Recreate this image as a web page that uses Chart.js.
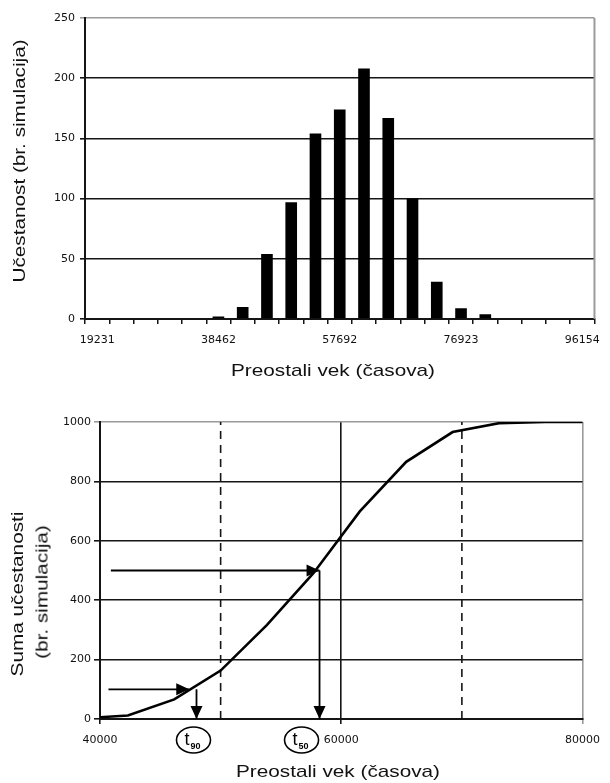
<!DOCTYPE html>
<html>
<head>
<meta charset="UTF-8"/>
<script src="https://cdn.jsdelivr.net/npm/chart.js@4.4.3/dist/chart.umd.min.js"></script>
<style>
  *{box-sizing:border-box;margin:0;padding:0}
  body{width:610px;height:783px;background:#fff;position:relative;overflow:hidden;font-family:'Liberation Sans',Arial,sans-serif;color:#111}
  canvas{position:absolute;left:0}
  .ttl{position:absolute;font-size:17px;line-height:1;white-space:nowrap}
</style>
</head>
<body>
<canvas id="hist" width="610" height="390" style="top:0"></canvas>
<canvas id="cum" width="610" height="391" style="top:392px"></canvas>

<div class="ttl" style="left:333px;top:370px;transform:translate(-50%,-50%) scaleX(1.22)">Preostali vek (časova)</div>
<div class="ttl" style="left:19px;top:161px;transform:translate(-50%,-50%) rotate(-90deg) scaleX(1.22)">Učestanost (br. simulacija)</div>
<div class="ttl" style="left:17px;top:594px;transform:translate(-50%,-50%) rotate(-90deg) scaleX(1.22)">Suma učestanosti</div>
<div class="ttl" style="left:42px;top:592px;transform:translate(-50%,-50%) rotate(-90deg) scaleX(1.22)">(br. simulacija)</div>
<div class="ttl" style="left:338px;top:771px;transform:translate(-50%,-50%) scaleX(1.22)">Preostali vek (časova)</div>

<script>
// ─── Histogram data ───────────────────────────────────────────────────────────
const binLabels = ['19231','23077','26923','30769','34615','38462','42308','46154','50000','53846',
                   '57692','61538','65385','69231','73077','76923','80769','84615','88462','92308','96154'];
const binCounts = [0,0,0,0,0,2,10,54,97,154,174,208,167,100,31,9,4,0,0,0,0];

// ─── Cumulative curve data ────────────────────────────────────────────────────
const lifeHours = [38462,42308,46154,50000,53846,57692,61538,65385,69231,73077,76923,80769];
const cumCounts = [2,12,66,163,317,491,699,866,966,996,1000,1000];
const dashedX   = [50000,70000];

// ─── t90 / t50 read-off arrows ────────────────────────────────────────────────
const arrowLevels = [100,500];
const arrowStartX = [40700,40900];
const arrowEndX   = [47400,58200];
const tValues     = [48000,58200];
const tNames      = ['90','50'];

const TICK_FONT = {family:'DejaVu Sans', size:11};
const DARK = '#151515', GREY = '#9a9a9a';

// right-hand frame line (Excel plot area border)
const frame = {
  id:'frame',
  afterDraw(chart) {
    const {ctx, chartArea:a} = chart;
    ctx.save();
    ctx.strokeStyle = GREY; ctx.lineWidth = 2;
    ctx.beginPath(); ctx.moveTo(a.right, a.top); ctx.lineTo(a.right, a.bottom); ctx.stroke();
    ctx.restore();
  }
};

new Chart(document.getElementById('hist'), {
  type:'bar',
  data:{labels:binLabels, datasets:[{data:binCounts, backgroundColor:'#000', barPercentage:0.48, categoryPercentage:1}]},
  options:{
    responsive:false, animation:false, devicePixelRatio:1,
    layout:{padding:{top:18, right:7, left:0, bottom:0}},
    plugins:{legend:{display:false}, tooltip:{enabled:false}},
    scales:{
      x:{
        grid:{offset:true, drawOnChartArea:false, tickLength:5, color:DARK, lineWidth:1.5},
        border:{color:DARK, width:2},
        ticks:{autoSkip:false, maxRotation:0, padding:10, font:TICK_FONT, color:'#111',
               callback:(v,i) => i % 5 === 0 ? binLabels[i] : ''},
        afterFit:s => { s.height = 390 - 319; }
      },
      y:{
        min:0, max:250,
        grid:{color:c => c.tick.value === 250 ? GREY : DARK, lineWidth:1.6, tickLength:5},
        border:{color:DARK, width:2},
        ticks:{stepSize:50, padding:5, font:TICK_FONT, color:'#111'},
        afterFit:s => { s.width = 85; }
      }
    }
  },
  plugins:[frame]
});

// arrowheads at the last point of flagged datasets + circled t labels
const arrows = {
  id:'arrows',
  afterDatasetsDraw(chart) {
    const {ctx, chartArea:a, scales} = chart;
    ctx.save();
    ctx.fillStyle = '#000';
    chart.data.datasets.forEach((ds, di) => {
      if (!ds.arrow) return;
      const pts = chart.getDatasetMeta(di).data;
      const p0 = pts[pts.length-2], p1 = pts[pts.length-1];
      const ang = Math.atan2(p1.y - p0.y, p1.x - p0.x);
      const L = 13, W = 6;
      ctx.beginPath();
      ctx.moveTo(p1.x, p1.y);
      ctx.lineTo(p1.x - L*Math.cos(ang) + W*Math.sin(ang), p1.y - L*Math.sin(ang) - W*Math.cos(ang));
      ctx.lineTo(p1.x - L*Math.cos(ang) - W*Math.sin(ang), p1.y - L*Math.sin(ang) + W*Math.cos(ang));
      ctx.closePath(); ctx.fill();
    });
    const dx = [-3, -18];
    tValues.forEach((t, i) => {
      const x = scales.x.getPixelForValue(t) + dx[i], y = a.bottom + 21;
      ctx.strokeStyle = '#000'; ctx.lineWidth = 1.6;
      ctx.beginPath(); ctx.ellipse(x, y, 17, 13, 0, 0, Math.PI*2); ctx.stroke();
      ctx.fillStyle = '#000'; ctx.textBaseline = 'alphabetic'; ctx.textAlign = 'left';
      ctx.font = '18px "Liberation Sans", Arial';
      ctx.fillText('t', x - 9, y + 5);
      ctx.font = 'bold 9px "Liberation Sans", Arial';
      ctx.fillText(tNames[i], x - 3, y + 9);
    });
    ctx.restore();
  }
};

const lineDs = (data, extra) => Object.assign({data, showLine:true, borderColor:'#000', backgroundColor:'#000',
  borderWidth:1.8, pointRadius:0, tension:0}, extra);

const datasets = [
  lineDs(lifeHours.map((x, i) => ({x, y:cumCounts[i]})), {borderWidth:2.6}),
  ...dashedX.map(x => lineDs([{x, y:0}, {x, y:1000}], {borderDash:[8,6], borderWidth:1.6, borderColor:DARK})),
];
arrowLevels.forEach((lv, i) => {
  datasets.push(lineDs([{x:arrowStartX[i], y:lv}, {x:arrowEndX[i], y:lv}], {arrow:true}));
  datasets.push(lineDs([{x:tValues[i], y:lv}, {x:tValues[i], y:0}], {arrow:true}));
});

new Chart(document.getElementById('cum'), {
  type:'scatter',
  data:{datasets},
  options:{
    responsive:false, animation:false, devicePixelRatio:1,
    layout:{padding:{top:30, right:20, left:0, bottom:0}},
    plugins:{legend:{display:false}, tooltip:{enabled:false}},
    scales:{
      x:{
        type:'linear', min:40000, max:80000,
        grid:{color:c => c.tick.value === 80000 ? GREY : DARK, lineWidth:1.6, tickLength:5},
        border:{color:DARK, width:2},
        ticks:{stepSize:20000, padding:10, font:TICK_FONT, color:'#111', callback:v => String(v)},
        afterFit:s => { s.height = 391 - 327; }
      },
      y:{
        min:0, max:1000,
        grid:{color:c => c.tick.value === 1000 ? GREY : DARK, lineWidth:1.6, tickLength:6},
        border:{color:DARK, width:2},
        ticks:{stepSize:200, padding:3, font:TICK_FONT, color:'#111', callback:v => String(v)},
        afterFit:s => { s.width = 100; }
      }
    }
  },
  plugins:[arrows]
});
</script>
</body>
</html>
